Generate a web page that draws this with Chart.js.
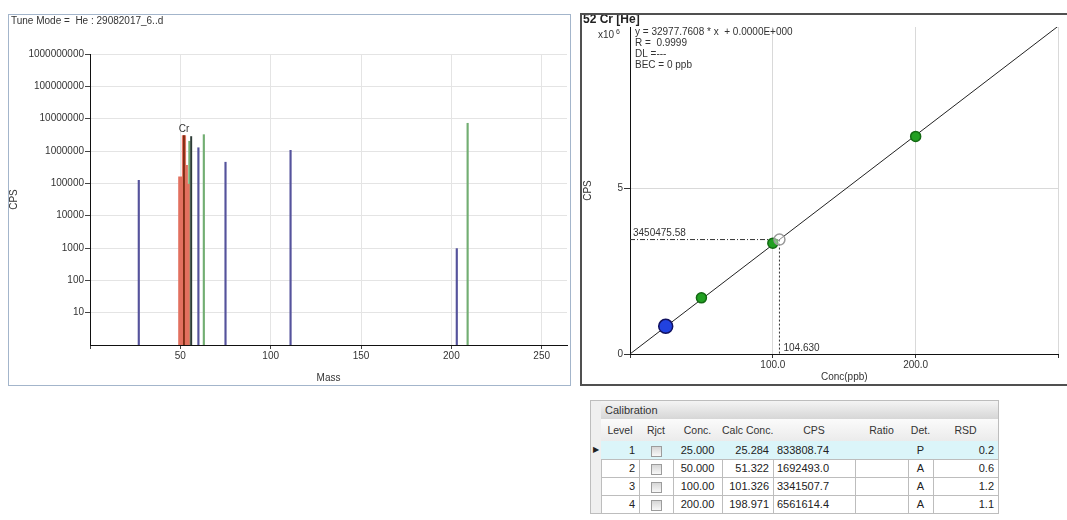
<!DOCTYPE html>
<html>
<head>
<meta charset="utf-8">
<script src="https://cdn.jsdelivr.net/npm/chart.js@4.4.0/dist/chart.umd.min.js"></script>
<style>
    body { margin: 0; background: #fff; font-family: "Liberation Sans", Arial, sans-serif; }
    #spec { position: absolute; left: 8px; top: 14px; width: 561px; height: 370px; border: 1px solid #a3b5cb; }
    #cal { position: absolute; left: 580px; top: 13px; width: 490px; height: 369px; border: 2px solid #505050; border-right: none; }
    canvas { position: absolute; left: 0; top: 0; }
    .c { position: absolute; box-sizing: border-box; border-right: 1px solid #bdbdbd; border-bottom: 1px solid #bdbdbd;
         font-size: 11px; color: #222; white-space: nowrap; overflow: hidden; padding: 0 4px; }
    .band { background: linear-gradient(#f4f4f4, #d6d6d6); border-top: 1px solid #bdbdbd; color: #333; padding-left: 4px; }
    .hd { background: linear-gradient(#fbfbfb, #ebebeb); color: #333; font-size: 10.5px; padding: 0; }
    .sel { background: #efefef; border-left: 1px solid #bdbdbd; font-size: 8px; padding: 0; }
    .hi { background: #dbf5f9; }
    .box { display: inline-block; width: 9px; height: 9px; border: 1px solid #9c9c9c; background: linear-gradient(#d6d6d6, #f8f8f8); vertical-align: middle; }
</style>
</head>
<body>
<div id="spec"><canvas id="specChart" width="561" height="370"></canvas></div>
<div id="cal"><canvas id="calChart" width="485" height="369"></canvas></div>
<div id="calTable"></div>

<script>
    // mass spectrum, values
    var tuneTitle = 'Tune Mode =  He : 29082017_6..d';
    var crMass = [50, 52, 53, 54];
    var crCps = [160000, 3000000, 360000, 93000];
    var selectedMass = 52;
    var selectedLabel = 'Cr';
    var blueMass = [27, 60, 75, 111, 203];
    var blueCps = [124000, 1260000, 450000, 1050000, 960];
    var greenMass = [55, 63, 209];
    var greenCps = [2000000, 3200000, 7200000];
    var darkMass = [56];
    var darkCps = [2800000];
    var massTicks = [0, 50, 100, 150, 200, 250];
    var logTicks = [10, 100, 1000, 10000, 100000, 1000000, 10000000, 100000000, 1000000000];

    // calibration
    var calTitle = '52 Cr [He]';
    var levels = [1, 2, 3, 4];
    var conc = [25, 50, 100, 200];
    var calcConc = [25.284, 51.322, 101.326, 198.971];
    var cps = [833808.74, 1692493.0, 3341507.7, 6561614.4];
    var det = ['P', 'A', 'A', 'A'];
    var rsd = [0.2, 0.6, 1.2, 1.1];
    var slope = 32977.7608;
    var intercept = 0;
    var fitText = ['y = 32977.7608 * x  + 0.0000E+000', 'R =  0.9999', 'DL =---', 'BEC = 0 ppb'];
    var sampleConc = 104.630;
    var sampleCps = 3450475.58;
    var concTicks = [0, 100, 200, 300];
    var cpsTicks = [0, 5000000];
    var cpsMax = 9860000;

    Chart.defaults.font.family = '"Liberation Sans", Arial, sans-serif';
    Chart.defaults.font.size = 10;
    Chart.defaults.color = '#333';

    function pts(xs, ys) {
        return xs.map(function (x, i) { return { x: x, y: ys[i] }; });
    }
    function setTicks(list) {
        return function (s) { s.ticks = list.map(function (v) { return { value: v }; }); };
    }

    function stem(xs, ys, color, w) {
        return { data: pts(xs, ys), backgroundColor: color, barThickness: w, grouped: false };
    }

    var specText = {
        id: 'specText',
        afterDraw: function (chart) {
            var ctx = chart.ctx, x = chart.scales.x, y = chart.scales.y;
            ctx.save();
            ctx.fillStyle = '#333';
            ctx.font = '10px "Liberation Sans", Arial';
            ctx.textBaseline = 'middle';
            ctx.fillText(tuneTitle, 2, 6);
            ctx.textAlign = 'center';
            ctx.textBaseline = 'bottom';
            var v = crCps[crMass.indexOf(selectedMass)];
            ctx.fillText(selectedLabel, x.getPixelForValue(selectedMass), y.getPixelForValue(v) - 1);
            ctx.restore();
        }
    };

    new Chart(document.getElementById('specChart'), {
        type: 'bar',
        data: {
            datasets: [
                stem([selectedMass], [crCps[crMass.indexOf(selectedMass)]], '#7a2e14', 1.2),
                stem(crMass, crCps, '#e2705f', 3.6),
                stem(darkMass, darkCps, '#2d3b36', 1.3),
                stem(greenMass, greenCps, '#72ae72', 1.5),
                stem(blueMass, blueCps, '#55539c', 1.5)
            ]
        },
        options: {
            responsive: false,
            animation: false,
            events: [],
            layout: { padding: { top: 39, right: 3, left: 0, bottom: 0 } },
            plugins: { legend: { display: false }, tooltip: { enabled: false } },
            scales: {
                x: {
                    type: 'linear', min: 0, max: 264, offset: false,
                    afterBuildTicks: setTicks(massTicks),
                    afterFit: function (s) { s.height = 40; },
                    grid: { color: '#e4e4e4', tickColor: '#444', tickLength: 4, offset: false },
                    border: { color: '#111' },
                    ticks: { padding: 1, maxRotation: 0, autoSkip: false,
                        callback: function (v) { return v === 0 ? '' : v; } },
                    title: { display: true, text: 'Mass', padding: { top: 0, bottom: 1 } }
                },
                y: {
                    type: 'logarithmic', min: 1, max: 1000000000,
                    afterBuildTicks: setTicks(logTicks),
                    afterFit: function (s) { s.width = 81; },
                    grid: { color: '#e4e4e4', tickColor: '#444', tickLength: 5 },
                    border: { color: '#111' },
                    ticks: { padding: 1, autoSkip: false, callback: function (v) { return String(v); } },
                    title: { display: true, text: 'CPS', padding: 0, font: { lineHeight: 1 } }
                }
            }
        },
        plugins: [specText]
    });

    var calText = {
        id: 'calText',
        afterDraw: function (chart) {
            var ctx = chart.ctx, x = chart.scales.x, y = chart.scales.y;
            ctx.save();
            ctx.fillStyle = '#222';
            ctx.textBaseline = 'middle';
            ctx.font = 'bold 12px "Liberation Sans", Arial';
            ctx.fillText(calTitle, 1, 5);
            ctx.font = '10px "Liberation Sans", Arial';
            ctx.fillStyle = '#333';
            ctx.fillText('x10', 16, 20);
            ctx.font = '7px "Liberation Sans", Arial';
            ctx.fillText('6', 34, 17);
            ctx.font = '10px "Liberation Sans", Arial';
            fitText.forEach(function (t, i) { ctx.fillText(t, 53, 17.5 + i * 11); });
            ctx.textBaseline = 'bottom';
            ctx.fillText(sampleCps.toFixed(2), x.left + 3, y.getPixelForValue(sampleCps) - 1);
            ctx.fillText(sampleConc.toFixed(3), x.getPixelForValue(sampleConc) + 4, y.bottom - 1);
            ctx.restore();
        }
    };

    var xEnd = concTicks[concTicks.length - 1];

    new Chart(document.getElementById('calChart'), {
        type: 'scatter',
        data: {
            datasets: [
                {
                    data: pts([sampleConc], [sampleCps]), order: 0,
                    pointRadius: 5.5, pointBorderWidth: 1.5,
                    pointBorderColor: '#9a9a9a', pointBackgroundColor: 'rgba(255,255,255,0.45)'
                },
                {
                    data: pts(conc, cps), order: 1,
                    pointRadius: det.map(function (d) { return d === 'P' ? 7 : 5; }),
                    pointBorderWidth: 1.5,
                    pointBackgroundColor: det.map(function (d) { return d === 'P' ? '#2142e0' : '#22a022'; }),
                    pointBorderColor: det.map(function (d) { return d === 'P' ? '#111160' : '#136a13'; })
                },
                {
                    data: pts([0, sampleConc], [sampleCps, sampleCps]), order: 2, showLine: true,
                    pointRadius: 0, borderColor: '#333', borderWidth: 1, borderDash: [5, 2, 1, 2]
                },
                {
                    data: pts([sampleConc, sampleConc], [sampleCps, 0]), order: 2, showLine: true,
                    pointRadius: 0, borderColor: '#333', borderWidth: 1, borderDash: [2, 2]
                },
                {
                    data: pts([0, xEnd], [intercept, intercept + slope * xEnd]), order: 3, showLine: true,
                    pointRadius: 0, borderColor: '#222', borderWidth: 1
                }
            ]
        },
        options: {
            responsive: false,
            animation: false,
            events: [],
            layout: { padding: { top: 12, right: 6, left: 0, bottom: 0 } },
            plugins: { legend: { display: false }, tooltip: { enabled: false } },
            scales: {
                x: {
                    type: 'linear', min: 0, max: xEnd,
                    afterBuildTicks: setTicks(concTicks),
                    afterFit: function (s) { s.height = 30; },
                    grid: { color: '#d9d9d9', tickColor: '#333', tickLength: 4 },
                    border: { color: '#111' },
                    ticks: { padding: 1, maxRotation: 0, autoSkip: false,
                        callback: function (v) { return (v === 0 || v === xEnd) ? '' : v.toFixed(1); } },
                    title: { display: true, text: 'Conc(ppb)', padding: { top: 0, bottom: 1 } }
                },
                y: {
                    type: 'linear', min: 0, max: cpsMax,
                    afterBuildTicks: setTicks(cpsTicks),
                    afterFit: function (s) { s.width = 48; },
                    grid: { color: '#d9d9d9', tickColor: '#333', tickLength: 6 },
                    border: { color: '#111' },
                    ticks: { padding: 1, callback: function (v) { return String(v / 1000000); } },
                    title: { display: true, text: 'CPS', padding: 0 }
                }
            }
        },
        plugins: [calText]
    });

    // calibration table
    var colX = [590, 601, 639, 673, 722, 773, 855, 908, 933, 998];
    var rowY = [419, 441, 459, 477, 495, 513];
    var headers = ['', 'Level', 'Rjct', 'Conc.', 'Calc Conc.', 'CPS', 'Ratio', 'Det.', 'RSD'];
    var aligns = ['center', 'right', 'center', 'center', 'right', 'left', 'center', 'center', 'right'];
    var tbl = document.getElementById('calTable');

    function cell(x0, x1, y0, y1, html, cls, align) {
        var d = document.createElement('div');
        d.className = 'c ' + cls;
        d.style.left = x0 + 'px';
        d.style.top = y0 + 'px';
        d.style.width = (x1 - x0 + 1) + 'px';
        d.style.height = (y1 - y0 + 1) + 'px';
        d.style.lineHeight = (y1 - y0) + 'px';
        d.style.textAlign = align;
        d.innerHTML = html;
        tbl.appendChild(d);
    }

    cell(colX[0], colX[1], 400, rowY[0], '', 'sel band', 'left');
    cell(colX[1], colX[9], 400, rowY[0], 'Calibration', 'band', 'left');
    for (var c = 0; c < headers.length; c++) {
        cell(colX[c], colX[c + 1], rowY[0], rowY[1], headers[c], c === 0 ? 'sel' : 'hd', 'center');
    }
    levels.forEach(function (lv, r) {
        var vals = [
            r === 0 ? '&#9654;' : '',
            String(lv),
            '<span class="box"></span>',
            conc[r].toPrecision(5),
            calcConc[r].toFixed(3),
            cps[r].toPrecision(8),
            '',
            det[r],
            rsd[r].toFixed(1)
        ];
        for (var c = 0; c < vals.length; c++) {
            var cls = c === 0 ? 'sel' : (r === 0 ? 'hi' : '');
            cell(colX[c], colX[c + 1], rowY[r + 1], rowY[r + 2], vals[c], cls, aligns[c]);
        }
    });
</script>
</body>
</html>
